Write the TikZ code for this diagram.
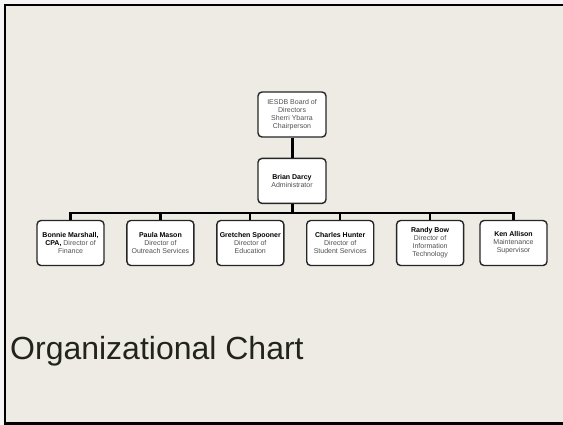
\documentclass[tikz,border=0pt]{standalone}
\usepackage{fontspec}
\setmainfont{Liberation Sans}
\usetikzlibrary{positioning}
\definecolor{slidebg}{RGB}{238,235,228}
\definecolor{rolegray}{RGB}{80,80,80}
\definecolor{titlegray}{RGB}{35,35,30}
\newcommand{\orgname}[1]{{\color{black}\bfseries #1}}

\begin{document}
\begin{tikzpicture}[
  x=1bp, y=-1bp,
  node distance=21.5bp,
  orgbox/.style={draw=black!85, line width=1.4bp, rounded corners=4bp, fill=white,
                 minimum width=67bp, minimum height=45bp, inner sep=2bp,
                 align=center, font=\fontsize{7bp}{8bp}\selectfont, text=rolegray},
  link/.style={line width=2.2bp, black}
]
  \useasboundingbox (0,0) rectangle (563,424);
  \fill[gray!8] (-10,-10) rectangle (575,435);
  \fill[slidebg] (5,5) rectangle (575,423);
  \draw[line width=2.2bp] (575,4.6) -- (4.6,4.6) -- (4.6,423.4) -- (575,423.4);

  \node[orgbox, minimum width=68bp] (a) at (292,114.5) {IESDB Board of\\Directors\\Sherri Ybarra\\Chairperson};
  \node[orgbox, minimum width=68bp, below=20bp of a] (b) {\orgname{Brian Darcy}\\Administrator};
  \coordinate[below=9bp of b] (j);

  \node[orgbox] (c) at (70.5,243) {\orgname{Bonnie Marshall,}\\\orgname{CPA,} Director of\\Finance};
  \node[orgbox, right=of c] (d) {\orgname{Paula Mason}\\Director of\\Outreach Services};
  \node[orgbox, right=of d] (e) {\orgname{Gretchen Spooner}\\Director of\\Education};
  \node[orgbox, right=of e] (f) {\orgname{Charles Hunter}\\Director of\\Student Services};
  \node[orgbox, right=of f] (g) {\orgname{Randy Bow}\\Director of\\Information\\Technology};
  \node[orgbox, right=15bp of g] (h) {\orgname{Ken Allison}\\Maintenance\\Supervisor};

  \draw[link, line width=3bp] (a) -- (b);
  \draw[link, line width=3bp] (b) -- (j);
  \foreach \n in {c,d,e,f,g,h}
    \draw[link] (j) -| (\n);

  \node[anchor=base west, inner sep=0pt, font=\fontsize{32bp}{38bp}\selectfont, text=titlegray] (t) at (10,359.5) {Organizational Chart};
\end{tikzpicture}
\end{document}
